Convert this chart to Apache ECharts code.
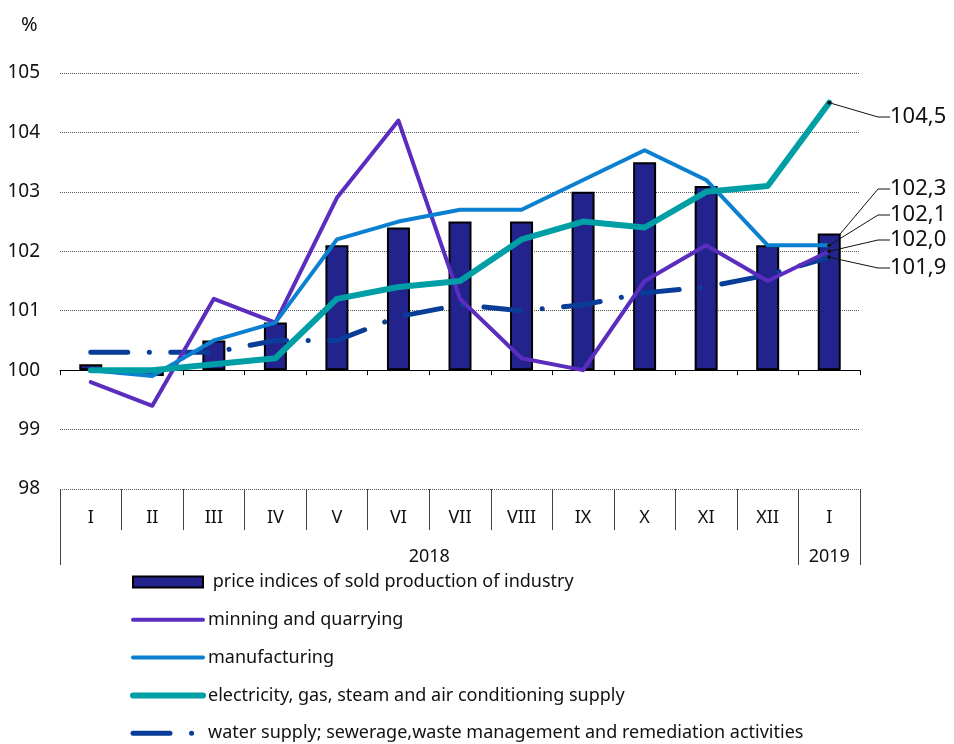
<!DOCTYPE html>
<html>
<head>
<meta charset="utf-8">
<script src="https://cdn.jsdelivr.net/npm/echarts@6/dist/echarts.min.js"></script>
<style>
  html, body { margin: 0; padding: 0; background: #fff; }
  #chart { width: 954px; height: 744px; }
</style>
</head>
<body>
<div id="chart"></div>
<script>
var months = ["I", "II", "III", "IV", "V", "VI", "VII", "VIII", "IX", "X", "XI", "XII", "I"];
var years = ["2018", "2019"];
var yTicks = [98, 99, 100, 101, 102, 103, 104, 105];

var industry = [100.1, 99.9, 100.5, 100.8, 102.1, 102.4, 102.5, 102.5, 103.0, 103.5, 103.1, 102.1, 102.3];
var mining = [99.8, 99.4, 101.2, 100.8, 102.9, 104.2, 101.2, 100.2, 100.0, 101.5, 102.1, 101.5, 102.0];
var manufacturing = [100.0, 99.9, 100.5, 100.8, 102.2, 102.5, 102.7, 102.7, 103.2, 103.7, 103.2, 102.1, 102.1];
var electricity = [100.0, 100.0, 100.1, 100.2, 101.2, 101.4, 101.5, 102.2, 102.5, 102.4, 103.0, 103.1, 104.5];
var water = [100.3, 100.3, 100.3, 100.5, 100.5, 100.9, 101.1, 101.0, 101.1, 101.3, 101.4, 101.6, 101.9];

var BASE = 100;
var FONT = "Noto Sans";

var chart = echarts.init(document.getElementById("chart"));

function fmt(v) {
  return v.toFixed(1).replace(".", ",");
}

// bars grow from 100, so everything is plotted as distance from 100
function toData(arr, withSymbol) {
  return arr.map(function (v, i) {
    var item = { value: +(v - BASE).toFixed(2), raw: v };
    if (i === arr.length - 1) {
      item.label = { show: true };
      if (withSymbol) {
        item.symbol = "circle";
        item.symbolSize = 4;
      }
    }
    return item;
  });
}

function endLabel(y) {
  return {
    label: {
      show: false,
      fontFamily: FONT,
      fontSize: 22,
      color: "#111",
      padding: [0, 0, 0, 9],
      formatter: function (p) { return fmt(p.data.raw); }
    },
    labelLine: { show: true, length2: 12, lineStyle: { color: "#111", width: 1 } },
    labelLayout: { x: 881, y: y, align: "left", verticalAlign: "middle" }
  };
}

function lineSeries(name, arr, color, width, type, labelY) {
  var s = {
    name: name,
    type: "line",
    xAxisIndex: 0,
    symbol: "none",
    data: toData(arr, true),
    lineStyle: { color: color, width: width, type: type || "solid", cap: "round", join: "round" },
    itemStyle: { color: "#111" },
    emphasis: { disabled: true },
    animation: false
  };
  return Object.assign(s, endLabel(labelY));
}

var barSeries = Object.assign({
  name: "price indices of sold production of industry",
  type: "bar",
  xAxisIndex: 0,
  barWidth: 23,
  data: toData(industry, false),
  itemStyle: { color: "#23238e", borderColor: "#000", borderWidth: 2 },
  emphasis: { disabled: true },
  animation: false
}, endLabel(189));

var option = {
  backgroundColor: "#fff",
  textStyle: { fontFamily: FONT },
  title: {
    text: "%",
    left: 16,
    top: 10,
    textStyle: { fontFamily: FONT, fontSize: 20, fontWeight: "normal", color: "#111" }
  },
  grid: { left: 60, right: 94, top: 73, bottom: 255, containLabel: false },
  legend: {
    orient: "vertical",
    left: 130,
    top: 572,
    padding: 0,
    itemWidth: 70,
    itemHeight: 11,
    itemGap: 17.8,
    selectedMode: false,
    textStyle: { fontFamily: FONT, fontSize: 18, color: "#111", lineHeight: 20 },
    itemStyle: { opacity: 0 },
    lineStyle: { width: "inherit" },
    formatter: function (name) {
      return name === barSeries.name ? " " + name : name;
    },
    data: [
      { name: "price indices of sold production of industry", icon: "rect", itemStyle: { opacity: 1 } },
      "minning and quarrying",
      "manufacturing",
      "electricity, gas, steam and air conditioning supply",
      "water supply; sewerage,waste management and remediation activities"
    ]
  },
  xAxis: [
    {
      type: "category",
      data: months,
      axisLine: { onZero: true, lineStyle: { color: "#000", width: 1 } },
      axisTick: { show: true, interval: 0, length: 5, lineStyle: { color: "#000" } },
      axisLabel: { show: false },
      splitLine: { show: false }
    },
    {
      type: "category",
      data: months,
      position: "bottom",
      axisLine: { show: false, onZero: false },
      axisTick: { show: true, interval: 0, length: 41, lineStyle: { color: "#444" } },
      axisLabel: { interval: 0, margin: 20, fontFamily: FONT, fontSize: 18, color: "#111" },
      splitLine: { show: false }
    },
    {
      type: "category",
      data: months,
      position: "bottom",
      axisLine: { show: false, onZero: false },
      axisTick: {
        show: true,
        length: 76,
        lineStyle: { color: "#444" },
        interval: function (i) { return i === 0 || i === months.length - 1; }
      },
      axisLabel: { show: false },
      splitLine: { show: false }
    },
    {
      // year labels: 2018 centred on Jan-Dec, 2019 on the last month
      type: "value",
      position: "bottom",
      min: 0,
      max: months.length,
      interval: 0.5,
      axisLine: { show: false, onZero: false },
      axisTick: { show: false },
      splitLine: { show: false },
      axisLabel: {
        margin: 59,
        showMinLabel: false,
        showMaxLabel: false,
        fontFamily: FONT,
        fontSize: 18,
        color: "#111",
        formatter: function (v) {
          if (v === 6) return years[0];
          if (v === 12.5) return years[1];
          return "";
        }
      }
    }
  ],
  yAxis: {
    type: "value",
    min: yTicks[0] - BASE,
    max: yTicks[yTicks.length - 1] - BASE,
    interval: 1,
    axisLine: { show: false },
    axisTick: { show: false },
    axisLabel: {
      margin: 20,
      fontFamily: FONT,
      fontSize: 19,
      color: "#111",
      formatter: function (v) { return String(v + BASE); }
    },
    splitLine: { show: true, lineStyle: { color: "#555", width: 1, type: "dotted" } }
  },
  series: [
    barSeries,
    lineSeries("water supply; sewerage,waste management and remediation activities", water, "#0a3d97", 5, [37, 21.5, 0.1, 21.4], 268),
    lineSeries("minning and quarrying", mining, "#5b2dbf", 4, "solid", 240),
    lineSeries("manufacturing", manufacturing, "#0b80d0", 4, "solid", 215),
    lineSeries("electricity, gas, steam and air conditioning supply", electricity, "#009fa6", 6, "solid", 117)
  ]
};

chart.setOption(option);
</script>
</body>
</html>
